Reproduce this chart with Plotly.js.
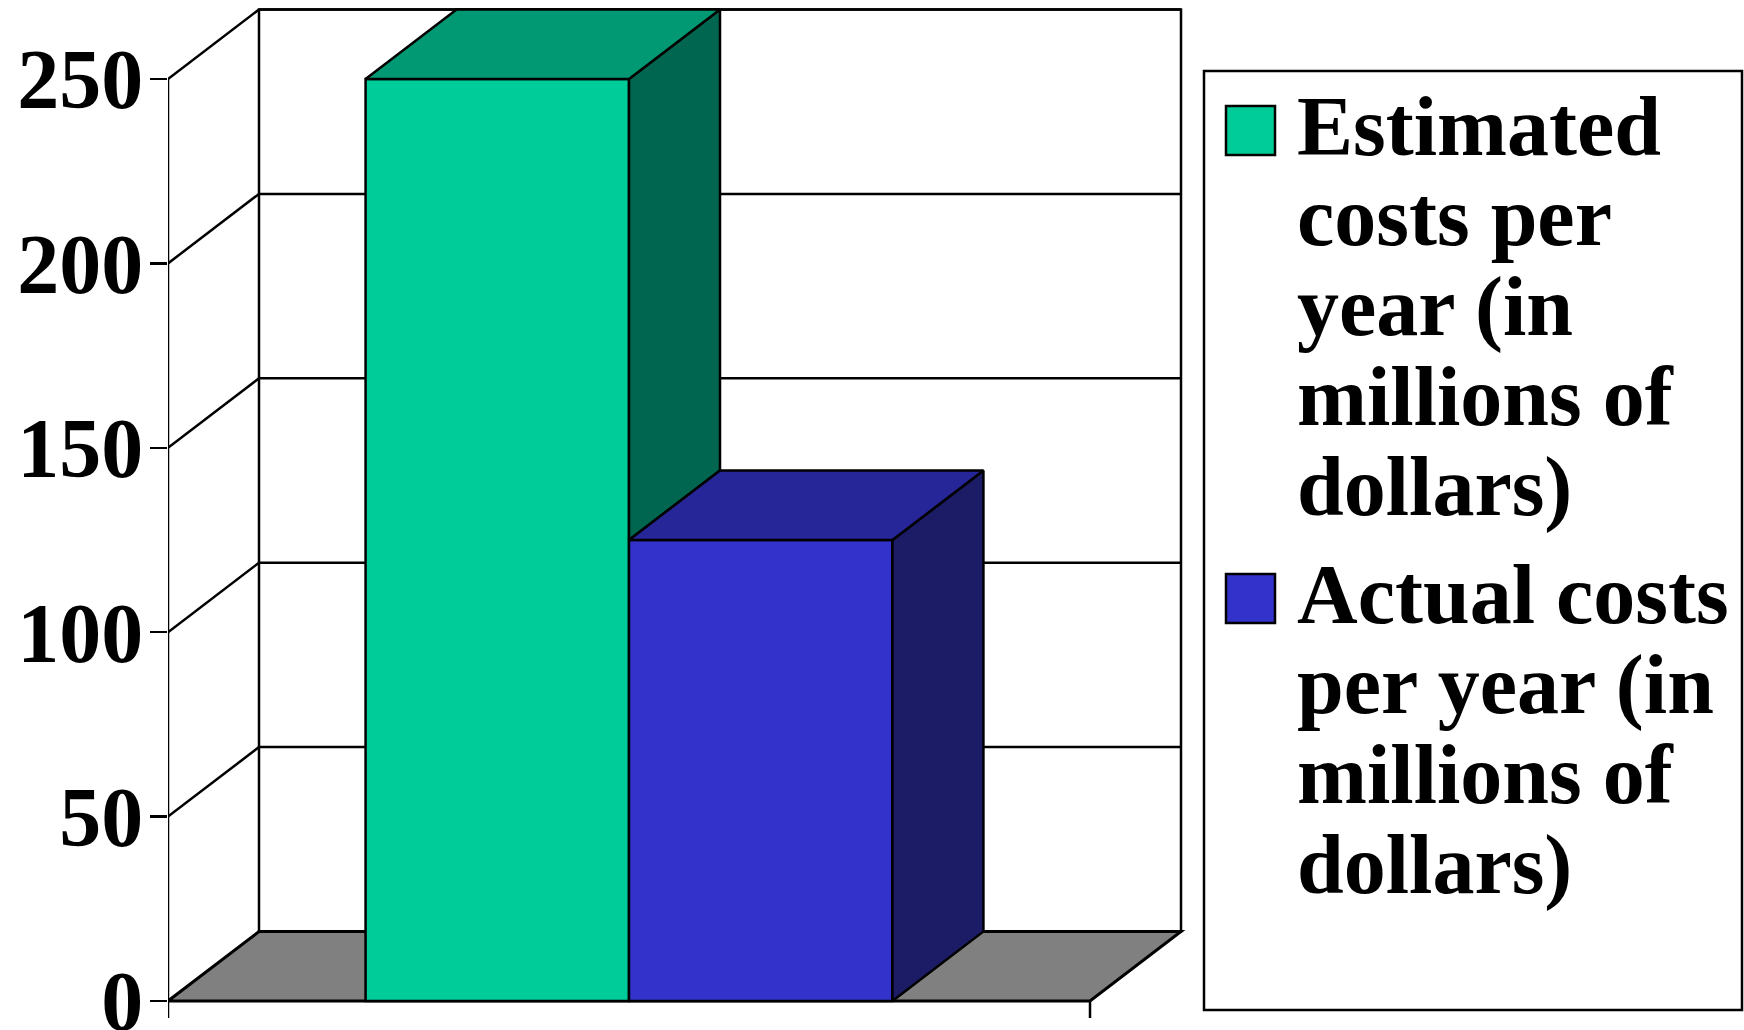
<!DOCTYPE html>
<html>
<head>
<meta charset="utf-8">
<script src="https://cdn.plot.ly/plotly-3.0.1.min.js"></script>
<style>
  html, body { margin: 0; padding: 0; background: #ffffff; }
  #chart { width: 1744px; height: 1030px; }
</style>
</head>
<body>
<div id="chart"></div>
<script>
// ---------------- data ----------------
const categories = [''];                       // single, unlabeled category
const seriesNames = [
  'Estimated costs per year (in millions of dollars)',
  'Actual costs per year (in millions of dollars)'
];
const estimatedCosts = [250];
const actualCosts = [125];
const legendLines = [
  ['Estimated', 'costs per', 'year (in', 'millions of', 'dollars)'],
  ['Actual costs', 'per year (in', 'millions of', 'dollars)']
];
const yTickVals = [0, 50, 100, 150, 200, 250];
const yTickText = ['0', '50', '100', '150', '200', '250'];

// ---------------- styles ----------------
const frontColors = ['#00CC99', '#3333CC'];
const topColors   = ['#009973', '#262699'];
const sideColors  = ['#006650', '#1C1C66'];
const floorColor  = '#808080';
const LW = 2.5;
const FONT = { family: 'Liberation Serif, Times New Roman, serif', size: 84, color: '#000000', weight: 'bold' };

// ---------------- geometry (pixels of the page) ----------------
const W = 1744, H = 1030;
const plotL = 168, plotR = 1200, plotT = 5, plotB = 1022;
const zeroPx = 1001, maxPx = 79;                 // y=0 and y=250 on the front plane
const catWidth = 10;                             // front floor spans x = 0 .. catWidth
const floorRightPx = 1090;
const pxPerX = (floorRightPx - plotL) / catWidth;
const yMaxTick = yTickVals[yTickVals.length - 1];
const pxPerY = (zeroPx - maxPx) / yMaxTick;
const xRange = [0, (plotR - plotL) / pxPerX];
const yRange = [-(plotB - zeroPx) / pxPerY, (zeroPx - plotT) / pxPerY];
const depthX = 91 / pxPerX;                      // 3-D depth offset, in axis units
const depthY = 69.5 / pxPerY;
const tickBelow = -17 / pxPerY;

const seriesValues = [estimatedCosts, actualCosts];
const nS = seriesValues.length;
const gapWidth = 1.5;
const catCenter = catWidth / 2;
const barW = catWidth / (nS + gapWidth);
const groupStart = catCenter - nS * barW / 2;

// ---------------- traces ----------------
const traces = [];
seriesValues.forEach((vals, i) => {
  traces.push({
    type: 'bar',
    name: seriesNames[i],
    x: [catCenter],
    y: vals,
    width: [barW],
    offset: [-nS * barW / 2 + i * barW],
    marker: { color: frontColors[i], line: { color: '#000000', width: LW } },
    showlegend: false,
    hoverinfo: 'skip'
  });
});
seriesValues.forEach((vals, i) => {
  const v = vals[0];
  const x0 = groupStart + i * barW, x1 = x0 + barW;
  const next = i < nS - 1 ? seriesValues[i + 1][0] : 0;
  const sb = Math.min(v, next);
  traces.push({
    type: 'scatter', mode: 'lines',
    x: [x1, x1, x1 + depthX, x1 + depthX, x1],
    y: [sb, v, v + depthY, sb + depthY, sb],
    fill: 'toself', fillcolor: sideColors[i],
    line: { color: '#000000', width: LW },
    showlegend: false, hoverinfo: 'skip'
  });
  traces.push({
    type: 'scatter', mode: 'lines',
    x: [x0, x1, x1 + depthX, x0 + depthX, x0],
    y: [v, v, v + depthY, v + depthY, v],
    fill: 'toself', fillcolor: topColors[i],
    line: { color: '#000000', width: LW },
    showlegend: false, hoverinfo: 'skip'
  });
});

// ---------------- frame shapes ----------------
const shapes = [];
// back wall
shapes.push({
  type: 'path', xref: 'x', yref: 'y', layer: 'below',
  path: `M ${depthX},${depthY} L ${depthX},${yMaxTick + depthY} L ${catWidth + depthX},${yMaxTick + depthY} L ${catWidth + depthX},${depthY} Z`,
  fillcolor: '#ffffff', line: { color: '#000000', width: LW }
});
yTickVals.forEach(v => {
  if (v <= 0) return;
  shapes.push({ type: 'line', xref: 'x', yref: 'y', layer: 'below',
    x0: depthX, x1: catWidth + depthX, y0: v + depthY, y1: v + depthY,
    line: { color: '#000000', width: LW } });
  shapes.push({ type: 'line', xref: 'x', yref: 'y', layer: 'below',
    x0: 0, x1: depthX, y0: v, y1: v + depthY,
    line: { color: '#000000', width: LW } });
});
// floor
shapes.push({
  type: 'path', xref: 'x', yref: 'y', layer: 'below',
  path: `M 0,0 L ${catWidth},0 L ${catWidth + depthX},${depthY} L ${depthX},${depthY} Z`,
  fillcolor: floorColor, line: { color: '#000000', width: 3 }
});
// front value axis line + category boundary ticks
shapes.push({ type: 'line', xref: 'x', yref: 'y', layer: 'above',
  x0: 0, x1: 0, y0: yMaxTick, y1: tickBelow, line: { color: '#000000', width: LW } });
shapes.push({ type: 'line', xref: 'x', yref: 'y', layer: 'above',
  x0: catWidth, x1: catWidth, y0: 0, y1: tickBelow, line: { color: '#000000', width: LW } });

// ---------------- legend (box, swatches, text lines) ----------------
const px2x = px => (px - plotL) / (plotR - plotL);
const py2y = py => (plotB - py) / (plotB - plotT);
const legBox = { l: 1204, t: 71, r: 1742, b: 1010 };
const swatch = { l: 1226, size: 49 };
const textX = 1297, lineStep = 90, entryGap = 18, firstBaseline = 155, ascentPx = 75;

shapes.push({ type: 'rect', xref: 'paper', yref: 'paper', layer: 'above',
  x0: px2x(legBox.l), x1: px2x(legBox.r), y0: py2y(legBox.b), y1: py2y(legBox.t),
  fillcolor: '#ffffff', line: { color: '#000000', width: LW } });

const annotations = [];
let baseline = firstBaseline;
legendLines.forEach((lines, i) => {
  shapes.push({ type: 'rect', xref: 'paper', yref: 'paper', layer: 'above',
    x0: px2x(swatch.l), x1: px2x(swatch.l + swatch.size),
    y0: py2y(baseline), y1: py2y(baseline - swatch.size),
    fillcolor: frontColors[i], line: { color: '#000000', width: LW } });
  lines.forEach((txt, k) => {
    const bl = baseline + k * lineStep;
    annotations.push({
      xref: 'paper', yref: 'paper', x: px2x(textX), y: py2y(bl - ascentPx),
      xanchor: 'left', yanchor: 'top', showarrow: false,
      text: txt, font: FONT, borderpad: 0, borderwidth: 0
    });
  });
  baseline += lines.length * lineStep + entryGap;
});

// ---------------- layout ----------------
const layout = {
  width: W, height: H,
  margin: { l: plotL, r: W - plotR, t: plotT, b: H - plotB, pad: 0 },
  paper_bgcolor: '#ffffff', plot_bgcolor: 'rgba(0,0,0,0)',
  barmode: 'overlay',
  showlegend: false,
  xaxis: { range: xRange, showgrid: false, zeroline: false, showline: false,
           showticklabels: false, ticks: '', fixedrange: true },
  yaxis: { range: yRange, showgrid: false, zeroline: false, showline: false,
           tickmode: 'array', tickvals: yTickVals, ticktext: yTickText,
           ticks: 'outside', ticklen: 17, tickwidth: LW, tickcolor: '#000000',
           ticklabelstandoff: -10, ticklabeloverflow: 'allow',
           tickfont: FONT, fixedrange: true },
  shapes: shapes,
  annotations: annotations
};

Plotly.newPlot('chart', traces, layout, { staticPlot: true, displayModeBar: false });
</script>
</body>
</html>
